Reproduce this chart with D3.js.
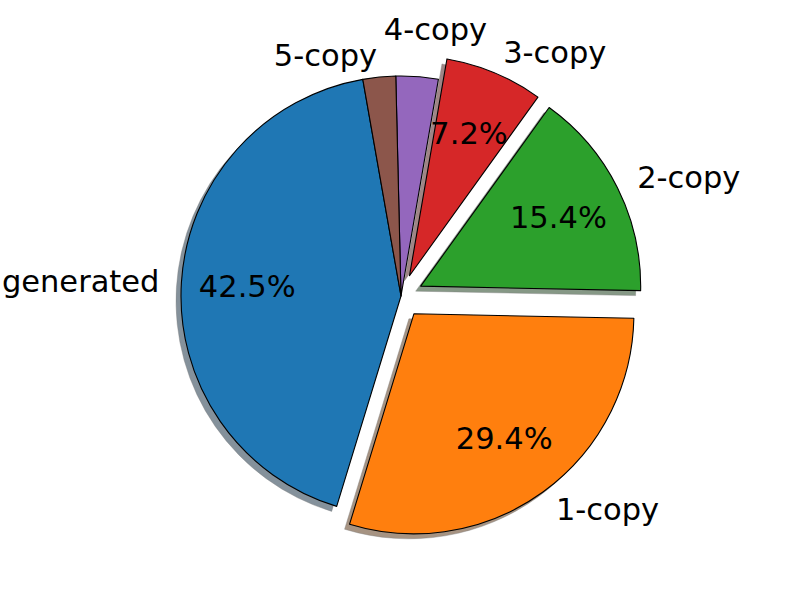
<!DOCTYPE html>
<html lang="en">
<head>
    <meta charset="UTF-8">
    <title>Pie Chart</title>
    <script src="https://cdn.jsdelivr.net/npm/d3@7"></script>
    <style>
        body { margin: 0; background: #fff; }
        text { font-family: "DejaVu Sans", sans-serif; }
    </style>
</head>
<body>
<svg id="main" width="800" height="597"></svg>
<script>
    // data
    const labels = ['generated', '1-copy', '2-copy', '3-copy', '4-copy', '5-copy'];
    const shares = [42.5, 29.4, 15.4, 7.2, 3.1, 2.4];
    const explode = [0, 0.1, 0.1, 0.1, 0, 0];
    const colors = ['#1f77b4', '#ff7f0e', '#2ca02c', '#d62728', '#9467bd', '#8c564b'];

    let svg = d3.select('svg#main');
    let cx = 401, cy = 296, radius = 220;

    // data units -> pixels (radius 1 = radius px)
    let r = d3.scaleLinear().domain([0, 1]).range([0, radius]);

    // startangle 100 (ccw from 3 o'clock) -> d3 angle -10deg, going ccw
    let start = (90 - 100) * Math.PI / 180;
    let pie = d3.pie().sort(null).value(d => d)
        .startAngle(start).endAngle(start - 2 * Math.PI);
    let arcs = pie(shares);

    let arc = d3.arc().innerRadius(0).outerRadius(r(1));

    function offset(d, i, dist) {
        let a = (d.startAngle + d.endAngle) / 2;
        let e = explode[i];
        return [r(e + dist) * Math.sin(a), -r(e + dist) * Math.cos(a)];
    }

    function shade(c, k) {
        c = d3.rgb(c);
        // darkened colour seen through half alpha over white
        return d3.rgb(255 - (255 - c.r * k) * 0.5, 255 - (255 - c.g * k) * 0.5, 255 - (255 - c.b * k) * 0.5).toString();
    }

    let g = svg.append('g').attr('transform', 'translate(' + cx + ',' + cy + ')');

    // shadows first
    let shadowShift = 5;
    g.selectAll('.shadow').data(arcs).enter().append('path')
        .attr('class', 'shadow')
        .attr('d', arc)
        .attr('transform', (d, i) => {
            let o = offset(d, i, 0);
            return 'translate(' + (o[0] - shadowShift) + ',' + (o[1] + shadowShift) + ')';
        })
        .attr('fill', (d, i) => shade(colors[i], 0.3))
        .attr('stroke', (d, i) => shade(colors[i], 0.0))
        .attr('stroke-opacity', 0.4)
        .attr('stroke-width', 1);

    g.selectAll('.wedge').data(arcs).enter().append('path')
        .attr('class', 'wedge')
        .attr('d', arc)
        .attr('transform', (d, i) => {
            let o = offset(d, i, 0);
            return 'translate(' + o[0] + ',' + o[1] + ')';
        })
        .attr('fill', (d, i) => colors[i])
        .attr('stroke', '#000')
        .attr('stroke-width', 1.1)
        .attr('stroke-linejoin', 'round');

    // outer labels (4-copy was nudged up in the original)
    let nudge = {'4-copy': [-35, -25]};
    g.selectAll('.label').data(arcs).enter().append('text')
        .attr('class', 'label')
        .attr('x', (d, i) => offset(d, i, 1.1)[0] + (nudge[labels[i]] ? nudge[labels[i]][0] : 0))
        .attr('y', (d, i) => offset(d, i, 1.1)[1] + (nudge[labels[i]] ? nudge[labels[i]][1] : 0))
        .attr('text-anchor', (d, i) => offset(d, i, 1.1)[0] < 0 ? 'end' : 'start')
        .attr('dominant-baseline', 'central')
        .style('font-size', '30.5px')
        .text((d, i) => labels[i]);

    // percentages, only for the larger slices
    g.selectAll('.pct').data(arcs.filter(d => d.data > 5)).enter().append('text')
        .attr('class', 'pct')
        .attr('x', d => offset(d, d.index, 0.7)[0])
        .attr('y', d => offset(d, d.index, 0.7)[1])
        .attr('text-anchor', 'middle')
        .attr('dominant-baseline', 'central')
        .style('font-size', '30.5px')
        .text(d => d3.format('.1f')(d.data) + '%');
</script>
</body>
</html>
